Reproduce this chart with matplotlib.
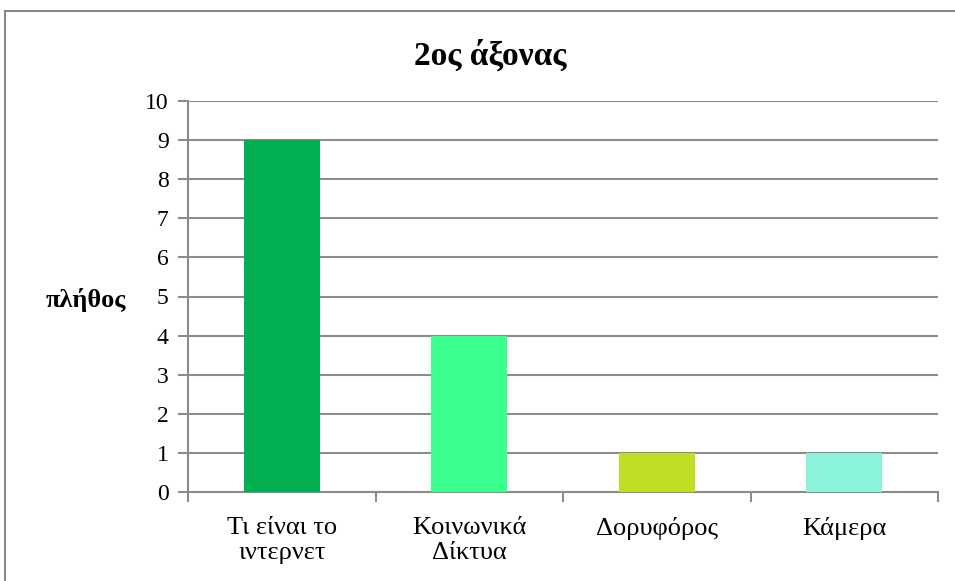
import matplotlib
matplotlib.use("Agg")
import matplotlib.pyplot as plt
from matplotlib.lines import Line2D
import numpy as np

categories = ["Τι είναι το\nιντερνετ", "Κοινωνικά\nΔίκτυα", "Δορυφόρος", "Κάμερα"]
counts = [9, 4, 1, 1]
bar_colors = ["#00B050", "#3AFF8C", "#C0DE23", "#8AF3DA"]
y_ticks = list(range(0, 11))

plt.rcParams["font.family"] = ["Liberation Serif", "DejaVu Serif"]
grid_color = "#8c8c8c"

fig = plt.figure(figsize=(9.55, 5.81), dpi=100)
ax = fig.add_axes([188 / 955, 1 - 492 / 581, (938 - 188) / 955, (492 - 101) / 581])

x = np.arange(len(categories))
ax.bar(x, counts, width=0.405, color=bar_colors, zorder=3)

ax.set_xlim(-0.5, len(categories) - 0.5)
ax.set_ylim(0, 10)
ax.set_yticks(y_ticks)
ax.yaxis.grid(True, color=grid_color, linewidth=1.5, zorder=0)
ax.tick_params(axis="y", length=7, width=1.5, color=grid_color, labelsize=17, pad=7)

# category labels centred, tick marks on the boundaries between them
ax.set_xticks(x)
ax.set_xticklabels(categories, fontsize=19, linespacing=1.15)
ax.tick_params(axis="x", which="major", length=0, pad=18)
ax.set_xticks(np.arange(-0.5, len(categories)), minor=True)
ax.tick_params(axis="x", which="minor", length=7, width=1.5, color=grid_color)

for side in ["top", "right"]:
    ax.spines[side].set_visible(False)
for side in ["left", "bottom"]:
    ax.spines[side].set_color(grid_color)
    ax.spines[side].set_linewidth(1.5)

fig.text(490 / 955, 1 - 55 / 581, "2ος άξονας", fontsize=24, fontweight="bold",
         ha="center", va="center")
fig.text(86 / 955, 1 - 300 / 581, "πλήθος", fontsize=19, fontweight="bold",
         ha="center", va="center")

# chart area border
fig.add_artist(Line2D([4.5 / 955, 4.5 / 955], [0, 1 - 11 / 581], color="#888888",
                      linewidth=1.5, transform=fig.transFigure))
fig.add_artist(Line2D([4.5 / 955, 1], [1 - 11 / 581, 1 - 11 / 581], color="#888888",
                      linewidth=1.5, transform=fig.transFigure))

fig.savefig("out.png", dpi=100, facecolor="white")
